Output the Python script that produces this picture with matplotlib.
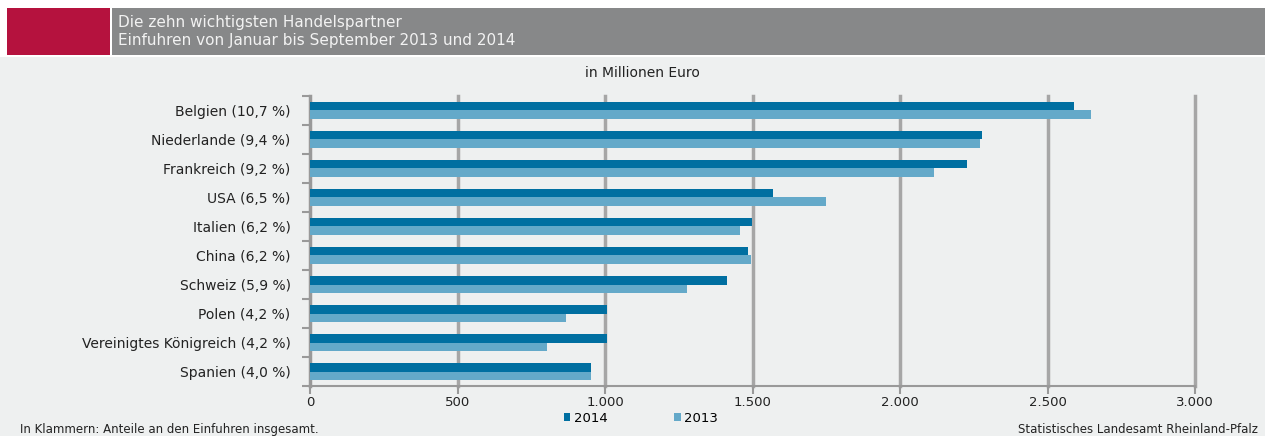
import matplotlib
matplotlib.use("Agg")
import matplotlib.pyplot as plt
from matplotlib.patches import Rectangle
import numpy as np

plt.rcParams['font.family'] = ['DejaVu Sans']

categories = ["Belgien (10,7 %)", "Niederlande (9,4 %)", "Frankreich (9,2 %)", "USA (6,5 %)",
              "Italien (6,2 %)", "China (6,2 %)", "Schweiz (5,9 %)", "Polen (4,2 %)",
              "Vereinigtes Königreich (4,2 %)", "Spanien (4,0 %)"]
values_2014 = [2590, 2278, 2227, 1569, 1498, 1485, 1414, 1007, 1007, 953]
values_2013 = [2647, 2271, 2115, 1749, 1458, 1495, 1278, 868, 803, 953]
xticks = [0, 500, 1000, 1500, 2000, 2500, 3000]
xticklabels = ["0", "500", "1.000", "1.500", "2.000", "2.500", "3.000"]

W, H = 1265, 436
fig = plt.figure(figsize=(W / 100, H / 100), dpi=100)
fig.patch.set_facecolor("#eef0f0")

# header
fig.patches.append(Rectangle((0, 1 - 57 / H), 1, 57 / H, transform=fig.transFigure,
                             facecolor="white", edgecolor="none", zorder=0))
fig.patches.append(Rectangle((7 / W, 1 - 55 / H), 103 / W, 47 / H, transform=fig.transFigure,
                             facecolor="#b5123e", edgecolor="none", zorder=1))
fig.patches.append(Rectangle((112 / W, 1 - 55 / H), (W - 112) / W, 47 / H, transform=fig.transFigure,
                             facecolor="#878889", edgecolor="none", zorder=1))
fig.text(118 / W, 1 - 22 / H, "Die zehn wichtigsten Handelspartner", color="#f2f2f2",
         fontsize=11, va="center", ha="left")
fig.text(118 / W, 1 - 40 / H, "Einfuhren von Januar bis September 2013 und 2014", color="#f2f2f2",
         fontsize=11, va="center", ha="left")

ax = fig.add_axes([310 / W, 1 - 386 / H, (1195 - 310) / W, (386 - 96) / H])
ax.set_facecolor("#eef0f0")

n = len(categories)
y = np.arange(n)
h = 0.28
ax.barh(y - h / 2, values_2014, height=h, color="#006fa1", label="2014", zorder=3)
ax.barh(y + h / 2, values_2013, height=h, color="#64a9c9", label="2013", zorder=3)

ax.set_xlim(0, 3000)
ax.set_ylim(n - 0.5, -0.5)
ax.set_xticks(xticks)
ax.set_xticklabels(xticklabels, fontsize=9.5, color="#222222")
ax.set_yticks(y)
ax.set_yticklabels(categories, fontsize=10, color="#222222")
ax.set_yticks(np.arange(-0.5, n, 1), minor=True)
ax.tick_params(axis="y", which="major", length=0, pad=14)
ax.tick_params(axis="y", which="minor", length=6, width=1.5, color="#999999")
ax.tick_params(axis="x", which="major", length=6, width=1.5, color="#999999", pad=1)

for v in xticks[1:]:
    ax.axvline(v, color="#a6a6a6", lw=2.5, zorder=1, clip_on=False)

for s in ["top", "right"]:
    ax.spines[s].set_visible(False)
ax.spines["left"].set_color("#999999")
ax.spines["left"].set_linewidth(2.5)
ax.spines["bottom"].set_color("#999999")
ax.spines["bottom"].set_linewidth(1.5)

fig.text(642 / W, 1 - 73 / H, "in Millionen Euro", fontsize=10, ha="center", va="center", color="#222222")

leg = fig.legend(handles=ax.get_legend_handles_labels()[0], labels=["2014", "2013"],
                 loc="center", bbox_to_anchor=(641 / W, 1 - 418 / H), ncol=2, frameon=False,
                 fontsize=9.5, handlelength=0.5, handleheight=0.5, columnspacing=5.0, handletextpad=0.3)

fig.text(20 / W, 1 - 429 / H, "In Klammern: Anteile an den Einfuhren insgesamt.", fontsize=8.5,
         ha="left", va="center", color="#222222")
fig.text(1258 / W, 1 - 429 / H, "Statistisches Landesamt Rheinland-Pfalz", fontsize=8.5,
         ha="right", va="center", color="#222222")

fig.savefig("out.png", dpi=100, facecolor=fig.get_facecolor())
